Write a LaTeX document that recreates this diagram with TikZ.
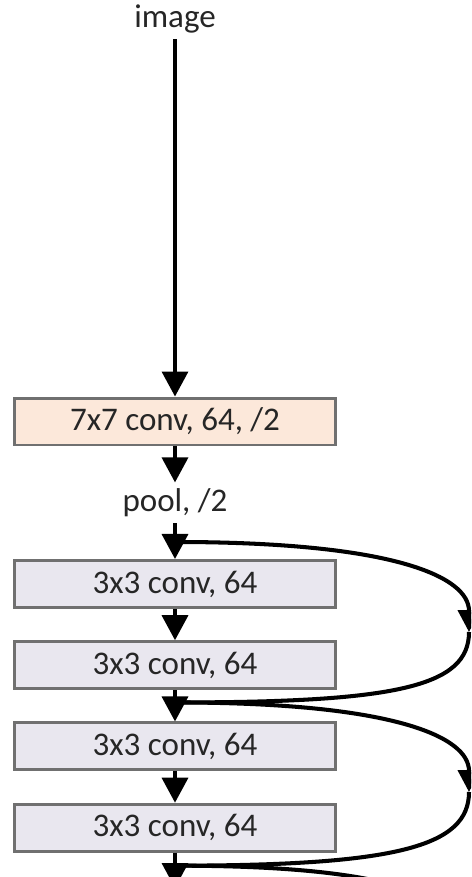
\documentclass[tikz,border=0pt]{standalone}
\usepackage{fontspec}
\setmainfont{Carlito}
\usepackage{xcolor}
\usepackage{tikz}
\usetikzlibrary{arrows.meta}

\definecolor{convorange}{HTML}{FCE8DA}
\definecolor{convgray}{HTML}{E9E7EF}
\definecolor{boxline}{HTML}{707070}
\definecolor{labeltext}{HTML}{262626}

\begin{document}
\begin{tikzpicture}[x=0.02cm, y=-0.02cm, node distance=1.625cm,
        font=\fontsize{18.8}{22}\selectfont, text=labeltext,
        layer/.style={draw=boxline, line width=1.7pt, rectangle, minimum width=6.44cm, minimum height=0.94cm, inner sep=0pt},
        arr/.style={-{Triangle[width=0.52cm, length=0.5cm]}, line width=2pt},
        skip/.style={line width=2.3pt},
        skiparr/.style={skip, -{Triangle[width=0.44cm, length=0.44cm]}}]
        \clip (0,0) rectangle (471,877);

        \node (image) at (175,19) {image};
        \node[layer, fill=convorange] (conv1) at (175,421.5) {7x7 conv, 64, /2};
        \node[below of=conv1] (pool) {pool, /2};
        \node[layer, fill=convgray, below of=pool] (b1) {3x3 conv, 64};
        \node[layer, fill=convgray, below of=b1] (b2) {3x3 conv, 64};
        \node[layer, fill=convgray, below of=b2] (b3) {3x3 conv, 64};
        \node[layer, fill=convgray, below of=b3] (b4) {3x3 conv, 64};

        % junctions of the shortcuts
        \coordinate (j1) at ([yshift=0.34cm]b1.north);
        \coordinate (j2) at ([yshift=0.38cm]b3.north);
        \coordinate (j3) at ([yshift=-0.26cm]b4.south);
        \coordinate (r1) at (469,632);
        \coordinate (r2) at (469,792);
        \coordinate (r3) at (469,952);
        \coordinate (out) at (175,888);

        \draw[skiparr] (j1) .. controls +(220,0) and +(0,-55) .. (r1);
        \draw[skip] (r1) .. controls +(0,55) and +(220,0) .. (j2);
        \draw[skiparr] (j2) .. controls +(220,0) and +(0,-55) .. (r2);
        \draw[skip] (r2) .. controls +(0,55) and +(220,0) .. (j3);
        \draw[skip] (j3) .. controls +(220,0) and +(0,-55) .. (r3);

        \draw[arr] (image) -- (conv1);
        \draw[arr] (conv1) -- (pool);
        \draw[arr] (pool) -- (b1);
        \draw[arr] (b1) -- (b2);
        \draw[arr] (b2) -- (b3);
        \draw[arr] (b3) -- (b4);
        \draw[arr] (b4) -- (out);
    \end{tikzpicture}
\end{document}
